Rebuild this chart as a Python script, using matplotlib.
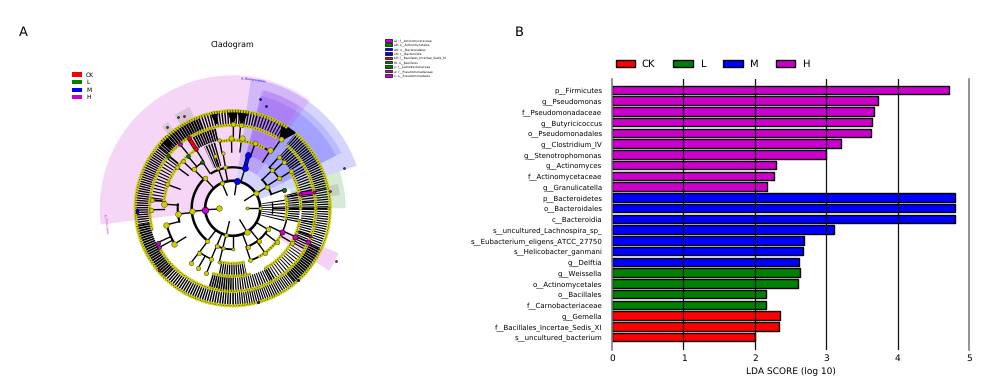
#!/usr/bin/env python
import numpy as np
import matplotlib
matplotlib.use('Agg')
import matplotlib.pyplot as plt
from matplotlib.patches import Patch

plt.rcParams['lines.scale_dashes'] = False
plt.rcParams['text.hinting'] = 'no_hinting'
plt.rcParams['text.hinting_factor'] = 1

CLASS_COLORS = {'CK': '#ff0000', 'L': '#008000', 'M': '#0000ff', 'H': '#cc00cc'}
YELLOW = '#cccc00'

#
# Bar panel data.
bar_labels = ['p__Firmicutes', 'g__Pseudomonas', 'f__Pseudomonadaceae', 'g__Butyricicoccus',
              'o__Pseudomonadales', 'g__Clostridium_IV', 'g__Stenotrophomonas', 'g__Actinomyces',
              'f__Actinomycetaceae', 'g__Granulicatella', 'p__Bacteroidetes', 'o__Bacteroidales',
              'c__Bacteroidia', 's__uncultured_Lachnospira_sp_', 's__Eubacterium_eligens_ATCC_27750',
              's__Helicobacter_ganmani', 'g__Delftia', 'g__Weissella', 'o__Actinomycetales',
              'o__Bacillales', 'f__Carnobacteriaceae', 'g__Gemella',
              'f__Bacillales_Incertae_Sedis_XI', 's__uncultured_bacterium']
bar_values = [4.72, 3.72, 3.67, 3.645, 3.63, 3.21, 2.99, 2.30, 2.27, 2.17, 4.80, 4.80, 4.80,
              3.11, 2.69, 2.67, 2.62, 2.635, 2.60, 2.16, 2.15, 2.35, 2.34, 2.00]
bar_classes = ['H'] * 10 + ['M'] * 7 + ['L'] * 4 + ['CK'] * 3
lda_ticks = [0, 1, 2, 3, 4, 5]

#
# Cladogram small legend.
key_labels = ['a1: f__Actinomycetaceae', 'a0: o__Actinomycetales', 'w0: o__Bacteroidales',
              'v0: c__Bacteroidia', 'k0: f__Bacillales_Incertae_Sedis_XI', 'f0: o__Bacillales',
              'y: f__Carnobacteriaceae', 'w: f__Pseudomonadaceae', 'v: o__Pseudomonadales']
key_classes = ['H', 'L', 'M', 'M', 'CK', 'L', 'L', 'H', 'H']

#
# Cladogram shaded sectors: start deg, end deg, inner r, outer r, class, alpha.
sectors = [(82, 187, 27, 133, 'H', 0.16), (19, 82, 27, 131, 'M', 0.17), (27, 76, 41, 122, 'M', 0.12),
           (27, 76, 55, 116, 'M', 0.12), (54.5, 82, 41, 133, 'H', 0.13), (57, 75, 55, 122, 'H', 0.09),
           (0, 19, 60, 113, 'L', 0.16), (-33, -23, 55, 115, 'H', 0.18), (6, 16, 60, 84, 'H', 0.14)]
grey_sectors = [(113, 122, 84, 110), (127, 131, 92, 108), (7, 13, 98, 108)]

# Branch arcs: start deg, end deg, r, linewidth.
arcs = [(-180, 180, 27.5, 1.9), (133, 232, 41, 1.8), (100, 121, 41, 1.6), (73, 100, 41, 1.6),
        (20, 44, 41, 1.4), (-69, -31, 41, 1.5), (246, 270, 41, 1.3), (176, 194, 55, 1.5),
        (194, 212, 68, 1.5), (123, 135, 55, 1.1), (60, 100, 68, 1.3), (32, 48, 55, 1.1),
        (-71, -37, 55, 1.3), (-30, -10, 55, 1.1), (232, 248, 55, 1.1), (-8, 8, 40, 0.9)]

# Dotted node rings: start deg, end deg, r.
rings = [(-120, 50, 97.5), (56, 240, 97.5), (-98, 49, 83), (58, 195, 83), (209, 262, 83),
         (0, 32, 68), (-62, -10, 68), (253, 285, 68), (62, 100, 68), (122, 176, 69),
         (-12, 14, 54), (-62, -30, 55), (258, 282, 55)]

# Leaf bands: start deg, end deg, inner r, outer r, dash on, dash off.
bands = [(-90, -50, 84, 97, 0.85, 0.75), (-50, -25, 84, 97, 1.3, 0.4), (-25, 12, 84, 96, 0.85, 0.85),
         (12, 50, 84, 97, 0.95, 0.7), (56, 75, 84, 98, 0.85, 1.3), (75, 110, 84, 98, 1.0, 1.0),
         (110, 140, 84, 98, 1.45, 0.4), (140, 190, 84, 97, 0.95, 0.7), (190, 225, 84, 97, 1.3, 0.4),
         (225, 270, 84, 97, 1.0, 0.75), (-90, -58, 69, 83, 0.85, 0.85), (253, 270, 69, 83, 1.1, 0.5),
         (-30, 5, 69, 82, 0.85, 0.85), (5, 32, 69, 82, 0.85, 1.0), (33, 48, 69, 82, 1.0, 0.7),
         (102, 120, 69, 82, 1.2, 0.5), (140, 175, 70, 82, 0.8, 1.4), (258, 282, 56, 68, 0.95, 0.7),
         (-14, 10, 29, 53, 0.7, 1.2), (-12, 14, 55, 67, 0.85, 0.75), (-62, -32, 69, 82, 0.7, 1.3),
         (105, 115, 44, 68, 0.95, 0.75)]

# Solid black collapsed clades: centre deg, half width deg, inner r.
fans = [(90, 3.0, 84), (84, 3.0, 84), (55, 4.5, 82), (135, 2.5, 86), (101, 2.0, 86)]

# Nodes: angle deg, r, size.
yellow_nodes = [(0, 14, 5), (180, 14, 16), (33, 28, 14), (113, 28, 10), (256, 27.5, 8), (-58.5, 27.5, 16),
                (0, 27, 6), (184, 41, 16), (133, 41, 12), (232.5, 41.7, 10), (247, 41, 10), (100.6, 41.7, 8),
                (110, 42.5, 6), (256, 41, 6), (270, 41, 5), (32, 41, 12), (-31, 41, 12), (-51, 41.5, 10),
                (-69, 41.8, 10), (186, 55, 18), (135, 55.4, 12), (108.6, 55, 8), (100, 56, 6), (33, 55, 11),
                (44, 54.6, 10), (-37.5, 55.8, 12), (-54, 55.6, 10), (-71, 54.6, 9), (232.8, 55.7, 10),
                (247, 55.4, 10), (256, 55.6, 5), (194, 69, 16), (211.5, 68.8, 16), (176.6, 68.5, 18),
                (91, 70, 14), (82.7, 70.6, 16), (71, 68.6, 12), (101, 70, 7), (57, 69, 16), (32.5, 69, 11),
                (42, 68.6, 10), (48, 68.6, 10), (-30, 68.6, 10), (232.6, 69, 10), (240, 69, 10), (248, 70, 10),
                (160, 69.7, 9), (143.5, 69, 8), (136.6, 69, 8), (89.5, 84, 12), (84.5, 84, 12), (181, 82, 12),
                (174, 81.4, 9), (55, 84, 14), (-10, 82, 5), (0, 82, 5), (0, 67, 5), (0, 54, 5), (0, 95, 4)]
class_nodes = [(183, 27.5, 22, 'H'), (81.7, 27.6, 20, 'M'), (72.9, 42, 18, 'M'), (73.6, 55.6, 18, 'M'),
               (20, 54.6, 9, 'L'), (123, 55.5, 7, 'L'), (130.7, 69, 7, 'L'),
               (140.9, 83, 7, 'L'), (129.5, 82.9, 7, 'H'), (122, 83.4, 7, 'CK'), (121.9, 69.5, 7, 'CK'),
               (-26, 55, 14, 'H'), (-24.4, 68.7, 14, 'H'), (-24, 82.4, 12, 'H'), (-19.5, 82.3, 5, 'H'),
               (12, 69, 6, 'H'), (11.3, 83, 5, 'H'), (204.6, 82.5, 9, 'H'), (208, 83, 7, 'H'),
               (220, 96.7, 4, 'CK'), (181, 96, 5, 'M'), (182.4, 96, 5, 'M'), (-48, 97, 3, 'M'),
               (-75, 97, 3, 'M'), (118, 104, 2, 'CK'), (121, 106, 2, 'L'), (129, 104, 2, 'L'),
               (76, 113, 2, 'M'), (72, 108, 2, 'M'), (20, 118, 2, 'L'), (10, 99, 2, 'H'), (-27, 116, 2, 'H')]
thick_branches = [(73, 42, 73.6, 55.6, 'M'), (122, 83.4, 121.9, 69.5, 'CK'), (12, 69, 11.3, 83, 'H')]
sector_names = [(81, 131, 'p__Bacteroidetes', 'M', -8), (187, 127, 'p__Firmicutes', 'H', -84)]


def drawArc(ax, start, end, r, **kw):
    theta = np.radians(np.linspace(start, end, 120))
    ax.plot(theta, np.full_like(theta, r), **kw)


def drawCladogram(fig):
    cx, cy, rmax = 232.7, 208.3, 140.0
    ax = fig.add_axes([(cx - rmax) / 1000, (390 - cy - rmax) / 390, 2 * rmax / 1000, 2 * rmax / 390],
                      projection='polar')
    ax.set_ylim(0, rmax)
    ax.axis('off')
    #
    # Shaded sectors.
    for start, end, r0, r1, cls, alpha in sectors:
        ax.bar(np.radians((start + end) / 2), r1 - r0, width=np.radians(end - start), bottom=r0,
               color=CLASS_COLORS[cls], alpha=alpha, linewidth=0, zorder=1)
    for start, end, r0, r1 in grey_sectors:
        ax.bar(np.radians((start + end) / 2), r1 - r0, width=np.radians(end - start), bottom=r0,
               color='#999999', alpha=0.3, linewidth=0, zorder=1)
    #
    # Leaf bands, a thick dashed arc reads as a row of radial lines.
    for start, end, r0, r1, on, off in bands:
        drawArc(ax, start, end, (r0 + r1) / 2, color='black', lw=(r1 - r0) * 0.72,
                linestyle=(0, (on, off)), dash_capstyle='butt', zorder=2)
    for centre, half, r0 in fans:
        ax.fill(np.radians([centre - half, centre + half, centre]), [98, 98, r0], color='black', zorder=2)
    #
    # Branches.
    for angle, r, size in yellow_nodes:
        if r > 14:
            ax.plot([np.radians(angle)] * 2, [r - 13.7, r], color='black', lw=1.0, zorder=3)
    for angle, r, size, cls in class_nodes:
        if r <= 84:
            ax.plot([np.radians(angle)] * 2, [r - 13.7, r], color='black', lw=1.0, zorder=3)
    for start, end, r, lw in arcs:
        drawArc(ax, start, end, r, color='black', lw=lw, zorder=3)
    for a0, r0, a1, r1, cls in thick_branches:
        ax.plot(np.radians([a0, a1]), [r0, r1], color='black', lw=3.0, zorder=3, solid_capstyle='butt')
        ax.plot(np.radians([a0, a1]), [r0, r1], color=CLASS_COLORS[cls], lw=2.0, zorder=3,
                solid_capstyle='butt')
    #
    # Node rings.
    for start, end, r in rings:
        drawArc(ax, start, end, r, color='#333300', lw=0.8, zorder=4)
        drawArc(ax, start, end, r, color=YELLOW, lw=2.4, linestyle=(0, (1.4, 0.5)),
                dash_capstyle='butt', zorder=4)
    #
    # Nodes.
    for angle, r, size in yellow_nodes:
        ax.scatter(np.radians(angle), r, s=size, color=YELLOW, edgecolor='#333300', linewidth=0.3, zorder=5)
    for angle, r, size, cls in class_nodes:
        ax.scatter(np.radians(angle), r, s=size, color=CLASS_COLORS[cls], edgecolor='black', linewidth=0.4,
                   zorder=6)
    for angle, r, name, cls, rot in sector_names:
        ax.text(np.radians(angle), r, name, color=CLASS_COLORS[cls], fontsize=2.2, rotation=rot,
                ha='center', va='center', zorder=6)


def drawBars(fig):
    ax = fig.add_axes([612 / 1000, 1 - 350 / 390, 357.3 / 1000, 271 / 390])
    rows = np.arange(len(bar_values))
    colors = [CLASS_COLORS[c] for c in bar_classes]
    ax.barh(rows, bar_values, height=0.8, color=colors, edgecolor='black', linewidth=1.0, zorder=2)
    ax.set_xlim(0, 5)
    ax.set_ylim(24.2, -1.02)
    ax.set_xticks(lda_ticks)
    ax.tick_params(axis='both', length=0)
    ax.tick_params(axis='y', pad=7, labelsize=4.7)
    ax.tick_params(axis='x', pad=3, labelsize=6.6)
    ax.set_yticks(rows)
    ax.set_yticklabels(bar_labels)
    ax.set_xlabel('LDA SCORE (log 10)', fontsize=6.6, labelpad=3.5)
    for tick in lda_ticks[1:-1]:
        ax.axvline(tick, color='#111111', lw=0.9, zorder=3)
    for side in ['top', 'bottom']:
        ax.spines[side].set_visible(False)
    for side in ['left', 'right']:
        ax.spines[side].set_color('#808080')
        ax.spines[side].set_linewidth(1.2)
    handles = [Patch(facecolor=CLASS_COLORS[c], edgecolor='black', linewidth=1.0, label=c)
               for c in CLASS_COLORS]
    fig.legend(handles=handles, loc='center left', bbox_to_anchor=(0.6155, 1 - 64 / 390), ncol=4,
               frameon=False, fontsize=7, handlelength=2.0, handleheight=0.7, handletextpad=0.7,
               columnspacing=1.85, borderpad=0, borderaxespad=0)


def main():
    fig = plt.figure(figsize=(10, 3.9), dpi=100)
    drawCladogram(fig)
    drawBars(fig)
    fig.text(19 / 1000, 1 - 32 / 390, 'A', fontsize=9.5, va='center')
    fig.text(515 / 1000, 1 - 32 / 390, 'B', fontsize=9.5, va='center')
    fig.text(232.7 / 1000, 1 - 44 / 390, 'Cladogram', fontsize=5.8, ha='center', va='center')
    #
    # Class key of the cladogram.
    handles = [Patch(facecolor=CLASS_COLORS[c], linewidth=0, label=c) for c in CLASS_COLORS]
    fig.legend(handles=handles, loc='upper left', bbox_to_anchor=(72 / 1000, 1 - 72 / 390), frameon=False,
               fontsize=4.2, handlelength=1.7, handleheight=0.7, handletextpad=0.7, labelspacing=0.3,
               borderpad=0, borderaxespad=0)
    #
    # Clade key.
    handles = [Patch(facecolor=CLASS_COLORS[c], edgecolor='black', linewidth=0.5, label=name)
               for name, c in zip(key_labels, key_classes)]
    fig.legend(handles=handles, loc='upper left', bbox_to_anchor=(385 / 1000, 1 - 39 / 390), frameon=False,
               fontsize=2.0, handlelength=2.5, handleheight=1.0, handletextpad=0.7, labelspacing=0.5,
               borderpad=0, borderaxespad=0)
    fig.savefig('out.png', dpi=100)


if __name__ == '__main__':
    main()
